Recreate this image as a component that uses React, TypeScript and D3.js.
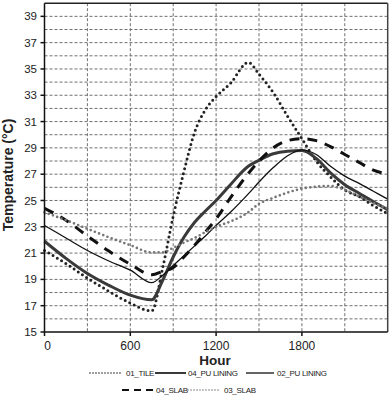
import * as d3 from "d3";

const hours = [0, 150, 300, 450, 600, 750, 825, 900, 975, 1050, 1125, 1200, 1300, 1425, 1500, 1600, 1700, 1800, 1900, 2000, 2100, 2200, 2300, 2400];

const tile01 = [21.2, 20.2, 19.1, 18.1, 17.2, 16.6, 19.8, 23.8, 27.2, 30.2, 31.9, 32.9, 33.9, 35.5, 34.6, 33.2, 31.4, 29.7, 28.0, 26.8, 25.8, 25.3, 24.6, 24.0];
const puLining04 = [21.9, 20.6, 19.45, 18.55, 17.8, 17.45, 18.9, 20.7, 22.2, 23.35, 24.2, 25.0, 26.2, 27.6, 28.05, 28.55, 28.75, 28.8, 28.2, 27.1, 26.2, 25.55, 24.9, 24.3];
const puLining02 = [23.1, 22.15, 21.2, 20.4, 19.7, 18.75, 19.3, 20.05, 20.8, 21.55, 22.3, 23.1, 24.1, 25.5, 26.4, 27.5, 28.4, 28.85, 28.5, 27.6, 26.85, 26.3, 25.7, 25.1];
const slab04 = [24.4, 23.5, 22.3, 21.15, 20.15, 19.35, 19.6, 19.9, 20.7, 21.6, 22.6, 23.6, 25.2, 27.05, 28.0, 29.0, 29.55, 29.7, 29.55, 29.1, 28.5, 27.9, 27.3, 27.0];
const slab03 = [24.1, 23.5, 22.85, 22.2, 21.6, 21.05, 21.05, 21.4, 21.8, 22.15, 22.6, 23.0, 23.4, 24.1, 24.75, 25.2, 25.6, 25.9, 26.05, 26.1, 25.8, 25.3, 24.8, 24.4];

const yTickLabels = [15, 17, 19, 21, 23, 25, 27, 29, 31, 33, 35, 37, 39];
const xTickLabels = [0, 600, 1200, 1800];

type Style = { color: string; width: number; dash: string; cap: "round" | "butt" };

const series: { name: string; values: number[]; style: Style }[] = [
  { name: "01_TILE", values: tile01, style: { color: "#222", width: 3, dash: "0,5", cap: "round" } },
  { name: "04_PU LINING", values: puLining04, style: { color: "#3a3a3a", width: 3, dash: "none", cap: "butt" } },
  { name: "02_PU LINING", values: puLining02, style: { color: "#111", width: 1.3, dash: "none", cap: "butt" } },
  { name: "04_SLAB", values: slab04, style: { color: "#111", width: 3, dash: "10,8", cap: "butt" } },
  { name: "03_SLAB", values: slab03, style: { color: "#777", width: 2.7, dash: "0,4.5", cap: "round" } },
];

const W = 391;
const H = 397;
const left = 44.5;
const right = 387.7;
const top = 3.2;
const bottom = 332;

export default function App() {
  const x = d3.scaleLinear().domain([0, 2400]).range([left, right]);
  const y = d3.scaleLinear().domain([15, 40]).range([bottom, top]);

  const line = d3
    .line<number>()
    .x((_, i) => x(hours[i]))
    .y((d) => y(d))
    .curve(d3.curveMonotoneX);

  const hGrid = d3.range(16, 40);
  const vGrid = d3.range(300, 2400, 300);

  const legendRows = [
    [
      { s: series[0], x0: 90, x1: 123, tx: 126 },
      { s: series[1], x0: 155, x1: 186, tx: 188 },
      { s: series[2], x0: 246, x1: 274, tx: 277 },
    ],
    [
      { s: series[3], x0: 122, x1: 153, tx: 156 },
      { s: series[4], x0: 188, x1: 221, tx: 224 },
    ],
  ];

  const font = "'Liberation Sans', Arial, sans-serif";

  return (
    <svg
      width={W}
      height={H}
      style={{ position: "absolute", left: 0, top: 0, background: "#fff" }}
      fontFamily={font}
    >
      <rect x={0} y={0} width={W} height={H} fill="#fff" />
      {/* grid */}
      {hGrid.map((v) => (
        <line key={"h" + v} x1={left} x2={right} y1={y(v)} y2={y(v)} stroke="#6f6f6f" strokeWidth={1} strokeDasharray="3,2" />
      ))}
      {vGrid.map((v) => (
        <line key={"v" + v} x1={x(v)} x2={x(v)} y1={top} y2={bottom} stroke="#6f6f6f" strokeWidth={1} strokeDasharray="3,2" />
      ))}

      {/* series */}
      {series.map((s) => (
        <path
          key={s.name}
          d={line(s.values) || ""}
          fill="none"
          stroke={s.style.color}
          strokeWidth={s.style.width}
          strokeDasharray={s.style.dash}
          strokeLinecap={s.style.cap}
          strokeLinejoin="round"
        />
      ))}

      {/* frame */}
      <line x1={left} x2={right} y1={top} y2={top} stroke="#222" strokeWidth={1.5} />
      <line x1={right} x2={right} y1={top} y2={bottom} stroke="#444" strokeWidth={1.5} />
      <line x1={left} x2={left} y1={top} y2={bottom} stroke="#111" strokeWidth={1.5} />
      <line x1={left} x2={right} y1={bottom} y2={bottom} stroke="#111" strokeWidth={1.5} />

      {/* y axis */}
      {yTickLabels.map((v) => (
        <g key={"yt" + v}>
          <line x1={left - 4} x2={left} y1={y(v)} y2={y(v)} stroke="#111" strokeWidth={1.5} />
          <text x={37} y={y(v)} dy="0.35em" textAnchor="end" fontSize={11.5} fill="#222">
            {v}
          </text>
        </g>
      ))}

      {/* x axis */}
      {xTickLabels.map((v) => (
        <g key={"xt" + v}>
          <line x1={x(v)} x2={x(v)} y1={bottom} y2={bottom + 4} stroke="#111" strokeWidth={1.5} />
          <text x={x(v) + (v === 0 ? 3 : 0)} y={350} textAnchor="middle" fontSize={12} fill="#222">
            {v}
          </text>
        </g>
      ))}

      <text x={215} y={365} textAnchor="middle" fontSize={13.5} fontWeight="bold" fill="#222">
        Hour
      </text>
      <text
        transform={`translate(13,${175}) rotate(-90)`}
        textAnchor="middle"
        fontSize={14}
        fontWeight="bold"
        fill="#222"
      >
        Temperature (°C)
      </text>

      {/* legend */}
      {legendRows.map((row, ri) =>
        row.map((item) => {
          const ly = ri === 0 ? 373 : 390;
          const st = item.s.style;
          return (
            <g key={item.s.name}>
              <line
                x1={item.x0}
                x2={item.x1}
                y1={ly}
                y2={ly}
                stroke={st.color}
                strokeWidth={st.dash === "none" ? Math.min(st.width, 2) : st.cap === "round" ? 1.6 : 2.2}
                strokeDasharray={st.cap === "round" ? "0,3" : st.dash === "none" ? "none" : "7,5"}
                strokeLinecap={st.cap}
              />
              <text x={item.tx} y={ly} dy="0.35em" fontSize={8} fill="#222" letterSpacing={-0.3}>
                {item.s.name}
              </text>
            </g>
          );
        })
      )}
    </svg>
  );
}
